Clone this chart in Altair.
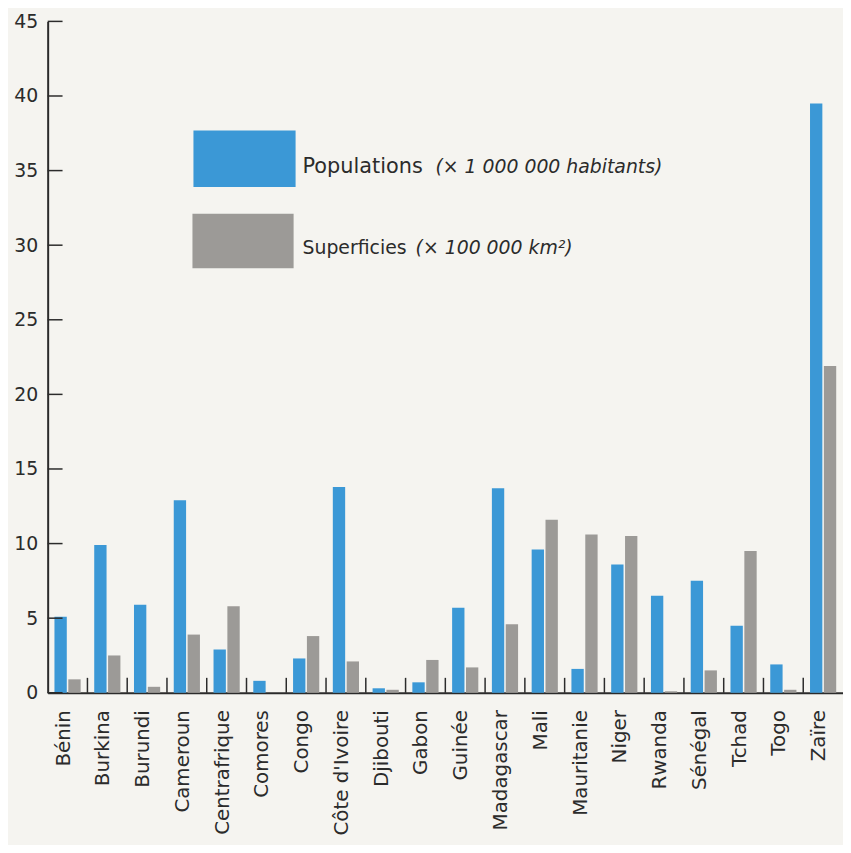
import altair as alt
import pandas as pd

countries = ["Bénin", "Burkina", "Burundi", "Cameroun", "Centrafrique", "Comores",
             "Congo", "Côte d'Ivoire", "Djibouti", "Gabon", "Guinée", "Madagascar",
             "Mali", "Mauritanie", "Niger", "Rwanda", "Sénégal", "Tchad", "Togo", "Zaïre"]
population = [5.1, 9.9, 5.9, 12.9, 2.9, 0.8, 2.3, 13.8, 0.3, 0.7,
              5.7, 13.7, 9.6, 1.6, 8.6, 6.5, 7.5, 4.5, 1.9, 39.5]
superficie = [0.9, 2.5, 0.4, 3.9, 5.8, 0.0, 3.8, 2.1, 0.2, 2.2,
              1.7, 4.6, 11.6, 10.6, 10.5, 0.1, 1.5, 9.5, 0.2, 21.9]
series = ["Populations", "Superficies"]
colors = ["#3b98d6", "#9c9a97"]
y_ticks = [0, 5, 10, 15, 20, 25, 30, 35, 40, 45]

rows = []
for c, p, s in zip(countries, population, superficie):
    rows.append({"country": c, "serie": series[0], "value": p})
    rows.append({"country": c, "serie": series[1], "value": s})
df = pd.DataFrame(rows)
sep_df = pd.DataFrame({"country": countries[:-1]})
tick_df = pd.DataFrame({"t": y_ticks})

W, H = 802, 677
font = "DejaVu Sans"
ink = "#2b2b2b"

xenc = alt.X("country:N", sort=countries,
             scale=alt.Scale(paddingInner=0, paddingOuter=0),
             axis=alt.Axis(labelAngle=-90, ticks=False, domainColor=ink, domainWidth=2,
                           labelFontSize=20, labelFont=font, labelColor=ink,
                           labelPadding=17, labelOffset=-4, title=None))
yscale = alt.Scale(domain=[0, 45], nice=False)

bars = alt.Chart(df).mark_bar().encode(
    x=xenc,
    xOffset=alt.XOffset("serie:N", sort=series,
                        scale=alt.Scale(paddingInner=0.11, paddingOuter=0.49)),
    y=alt.Y("value:Q", scale=yscale,
            axis=alt.Axis(values=y_ticks, ticks=False, grid=False, domainColor=ink,
                          domainWidth=2, labelFontSize=19, labelFont=font,
                          labelColor=ink, labelPadding=10, title=None)),
    color=alt.Color("serie:N", scale=alt.Scale(domain=series, range=colors), legend=None),
)

seps = alt.Chart(sep_df).mark_rule(color=ink, strokeWidth=1.5).encode(
    x=alt.X("country:N", sort=countries, bandPosition=1),
    y=alt.Y(datum=0, scale=yscale),
    y2=alt.Y2(datum=1.0),
)

yt = alt.Chart(tick_df).mark_rule(color=ink, strokeWidth=1.5).encode(
    y=alt.Y("t:Q", scale=yscale),
    x=alt.value(0), x2=alt.value(15),
)

sw1 = alt.Chart(tick_df).transform_filter("datum.t == 0").mark_rect(color=colors[0]).encode(
    x=alt.value(147), x2=alt.value(250), y=alt.value(110), y2=alt.value(167))
sw2 = alt.Chart(tick_df).transform_filter("datum.t == 0").mark_rect(color=colors[1]).encode(
    x=alt.value(146), x2=alt.value(248), y=alt.value(194), y2=alt.value(249))

def txt(s, x, y, size, italic=False):
    return alt.Chart(tick_df).transform_filter("datum.t == 0").mark_text(
        text=s, align="left", baseline="alphabetic", fontSize=size, font=font, color=ink,
        fontStyle="italic" if italic else "normal",
    ).encode(x=alt.value(x), y=alt.value(y))

legend = (sw1 + sw2
          + txt("Populations", 257, 153, 21)
          + txt("(× 1 000 000 habitants)", 391, 153, 19, True)
          + txt("Superficies", 257, 235, 19)
          + txt("(× 100 000 km²)", 371, 235, 19, True))

chart = alt.layer(bars, seps, yt, legend).properties(
    width=W, height=H,
    autosize=alt.AutoSizeParams(type="none"),
    padding={"left": 40, "top": 10, "right": 0, "bottom": 150},
    background="#f5f4f0",
).configure_view(stroke=None)

chart.save("out.html", embed_options={"renderer": "svg", "actions": False})
